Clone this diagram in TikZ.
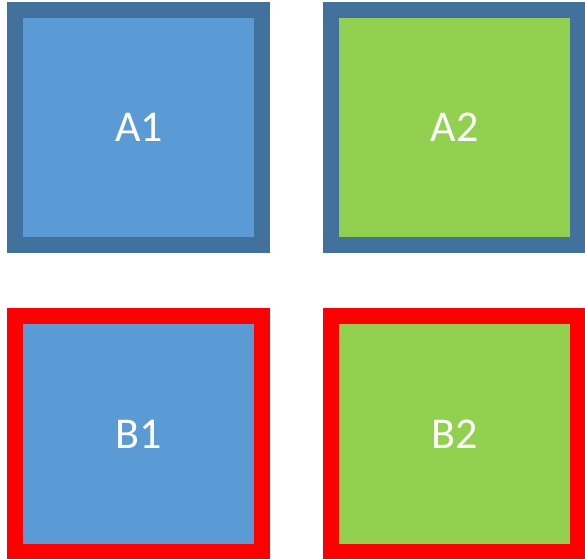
\documentclass[tikz,border=0pt]{standalone}
\usepackage{fontspec}
\setmainfont{Carlito}
\definecolor{bluefill}{HTML}{5B9BD5}
\definecolor{blueline}{HTML}{41719C}
\definecolor{greenfill}{HTML}{92D050}
\definecolor{redline}{HTML}{FF0000}
\begin{document}
\begin{tikzpicture}[x=1pt,y=-1pt,
  box/.style={rectangle, line width=16pt, minimum width=247pt, minimum height=235.5pt,
    inner sep=0pt, outer sep=0pt, text=white, font=\fontsize{44}{52}\selectfont}]
\useasboundingbox (0,0) rectangle (585,558);
\node[box, draw=blueline, fill=bluefill] (a1) at (138.9,127.7) {A1};
\node[box, draw=blueline, fill=greenfill] (a2) at (454.8,127.7) {A2};
\node[box, draw=redline, fill=bluefill] (b1) at (138.9,434) {B1};
\node[box, draw=redline, fill=greenfill] (b2) at (454.8,434) {B2};
\end{tikzpicture}
\end{document}
